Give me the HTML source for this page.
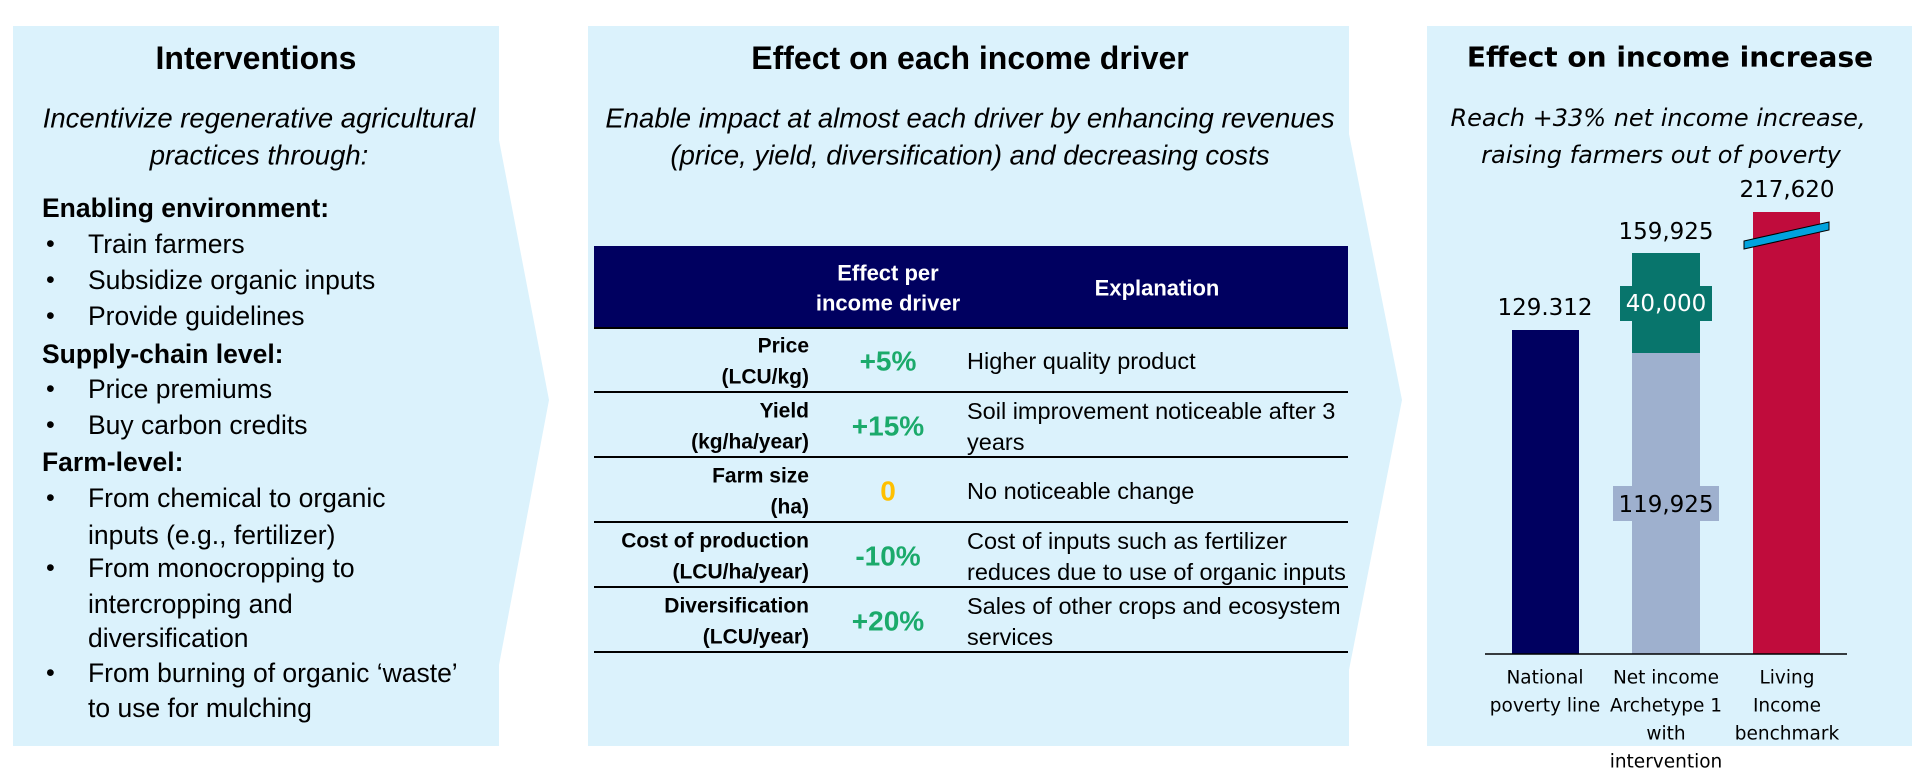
<!DOCTYPE html>
<html><head><meta charset="utf-8"><style>html,body{margin:0;padding:0;background:#fff}svg{display:block}</style></head>
<body>
<svg width="1920" height="783" viewBox="0 0 1920 783" xmlns="http://www.w3.org/2000/svg">
<g fill="#DBF2FC">
<polygon points="13,26 499,26 499,140 549,400 499,665 499,746 13,746"/>
<polygon points="588,26 1349,26 1349,134 1402,400 1349,670 1349,746 588,746"/>
<rect x="1427" y="26" width="485" height="720"/>
</g>
<g font-family="Liberation Sans, sans-serif" dominant-baseline="central" fill="#000">
<text x="256" y="58" font-size="32" font-weight="bold" text-anchor="middle">Interventions</text>
<g font-size="27.5" font-style="italic" text-anchor="middle">
<text x="259" y="118">Incentivize regenerative agricultural</text>
<text x="259" y="155">practices through:</text>
</g>
<g font-size="26.5">
<text x="42" y="208" font-weight="bold">Enabling environment:</text>
<text x="42" y="354" font-weight="bold">Supply-chain level:</text>
<text x="42" y="462" font-weight="bold">Farm-level:</text>
<text x="88" y="244">Train farmers</text>
<text x="88" y="280">Subsidize organic inputs</text>
<text x="88" y="316">Provide guidelines</text>
<text x="88" y="389">Price premiums</text>
<text x="88" y="425">Buy carbon credits</text>
<text x="88" y="498">From chemical to organic</text>
<text x="88" y="535">inputs (e.g., fertilizer)</text>
<text x="88" y="568">From monocropping to</text>
<text x="88" y="604">intercropping and</text>
<text x="88" y="638">diversification</text>
<text x="88" y="673">From burning of organic ‘waste’</text>
<text x="88" y="708">to use for mulching</text>
</g>
<g font-size="25">
<text x="46" y="244">•</text><text x="46" y="280">•</text><text x="46" y="316">•</text>
<text x="46" y="389">•</text><text x="46" y="425">•</text><text x="46" y="498">•</text>
<text x="46" y="568">•</text><text x="46" y="673">•</text>
</g>

<text x="970" y="58" font-size="32" font-weight="bold" text-anchor="middle">Effect on each income driver</text>
<g font-size="27.5" font-style="italic" text-anchor="middle">
<text x="970" y="118">Enable impact at almost each driver by enhancing revenues</text>
<text x="970" y="155">(price, yield, diversification) and decreasing costs</text>
</g>
<rect x="594" y="246" width="754" height="81" fill="#000060"/>
<g fill="#fff" font-weight="bold" font-size="22" text-anchor="middle">
<text x="888" y="273">Effect per</text>
<text x="888" y="303">income driver</text>
<text x="1157" y="288">Explanation</text>
</g>
<g stroke="#000" stroke-width="2">
<line x1="594" y1="328" x2="1348" y2="328"/>
<line x1="594" y1="392" x2="1348" y2="392"/>
<line x1="594" y1="457" x2="1348" y2="457"/>
<line x1="594" y1="522" x2="1348" y2="522"/>
<line x1="594" y1="587" x2="1348" y2="587"/>
<line x1="594" y1="652" x2="1348" y2="652"/>
</g>
<g font-weight="bold" font-size="21" text-anchor="end">
<text x="809" y="346">Price</text><text x="809" y="377">(LCU/kg)</text>
<text x="809" y="411">Yield</text><text x="809" y="442">(kg/ha/year)</text>
<text x="809" y="476">Farm size</text><text x="809" y="507">(ha)</text>
<text x="809" y="541">Cost of production</text><text x="809" y="572">(LCU/ha/year)</text>
<text x="809" y="606">Diversification</text><text x="809" y="637">(LCU/year)</text>
</g>
<g font-weight="bold" font-size="28" text-anchor="middle" fill="#1BAA6B">
<text x="888" y="361">+5%</text>
<text x="888" y="426">+15%</text>
<text x="888" y="491" fill="#FFC000">0</text>
<text x="888" y="556">-10%</text>
<text x="888" y="621">+20%</text>
</g>
<g font-size="23.5">
<text x="967" y="361">Higher quality product</text>
<text x="967" y="411">Soil improvement noticeable after 3</text><text x="967" y="442">years</text>
<text x="967" y="491">No noticeable change</text>
<text x="967" y="541">Cost of inputs such as fertilizer</text><text x="967" y="572">reduces due to use of organic inputs</text>
<text x="967" y="606">Sales of other crops and ecosystem</text><text x="967" y="637">services</text>
</g>
</g>

<g font-family="DejaVu Sans, sans-serif" dominant-baseline="central" fill="#000" text-anchor="middle">
<text x="1670" y="57" font-size="28" font-weight="bold">Effect on income increase</text>
<g font-size="24" font-style="italic">
<text x="1658" y="118">Reach +33% net income increase,</text>
<text x="1661" y="155">raising farmers out of poverty</text>
</g>
<rect x="1512" y="330" width="67" height="324" fill="#000060"/>
<rect x="1632" y="353" width="68" height="301" fill="#9EB0CE"/>
<rect x="1632" y="253" width="68" height="100" fill="#08756C"/>
<rect x="1620" y="286" width="92" height="35" fill="#08756C"/>
<rect x="1613" y="486" width="106" height="35" fill="#9EB0CE"/>
<rect x="1753" y="212" width="67" height="442" fill="#C00C3C"/>
<line x1="1485" y1="654" x2="1847" y2="654" stroke="#000" stroke-width="1.5"/>
<polygon points="1744,241 1829,222 1829,230 1744,249" fill="#00A3DE" stroke="#000" stroke-width="1"/>
<g font-size="23">
<text x="1545" y="308">129.312</text>
<text x="1666" y="232">159,925</text>
<text x="1787" y="190">217,620</text>
<text x="1666" y="304" fill="#fff">40,000</text>
<text x="1666" y="505">119,925</text>
</g>
<g font-size="18.5">
<text x="1545" y="678">National</text><text x="1545" y="706">poverty line</text>
<text x="1666" y="678">Net income</text><text x="1666" y="706">Archetype 1</text><text x="1666" y="734">with</text><text x="1666" y="762">intervention</text>
<text x="1787" y="678">Living</text><text x="1787" y="706">Income</text><text x="1787" y="734">benchmark</text>
</g>
</g>
</svg>
</body></html>
